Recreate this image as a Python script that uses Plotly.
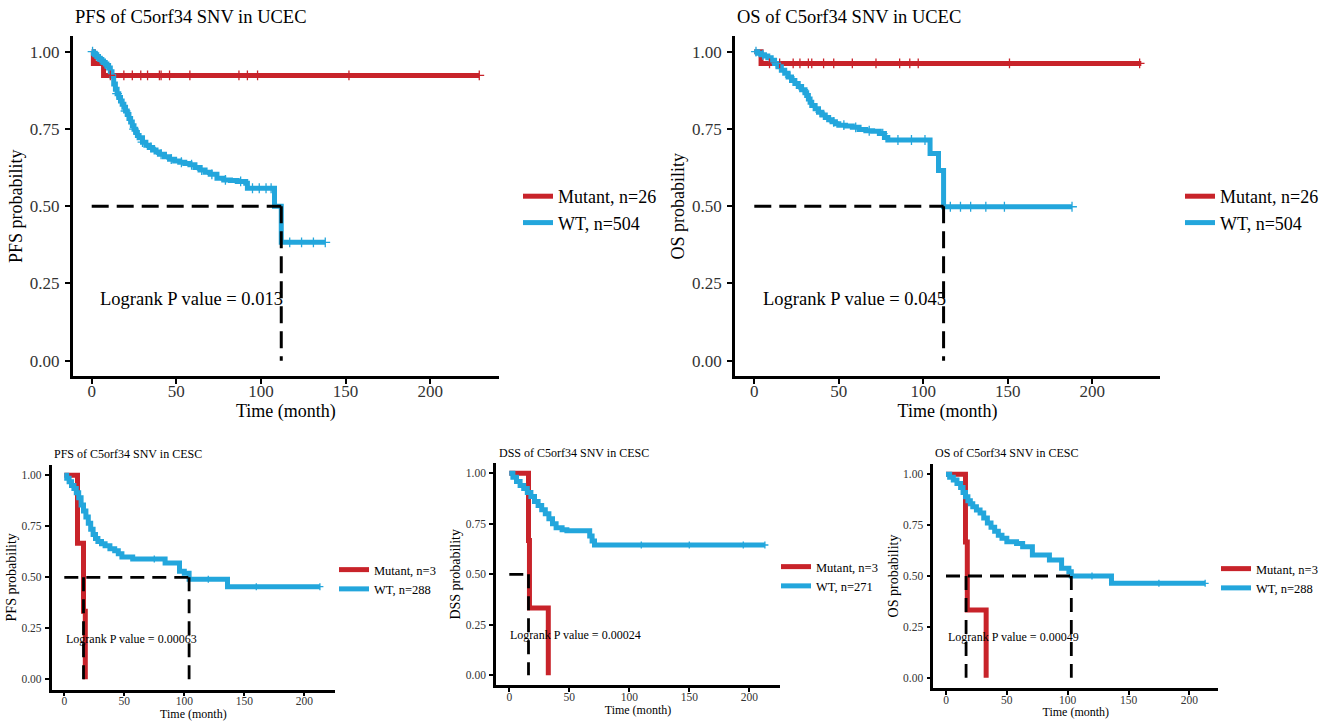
import plotly.graph_objects as go

W, H = 1336, 723
RED = "#C8232A"
BLUE = "#23A6DC"
FONT = "Liberation Serif"

# ---------------- data ----------------
y_ticks = [0, 0.25, 0.5, 0.75, 1.0]
y_ticktext = ["0.00", "0.25", "0.50", "0.75", "1.00"]
x_ticks = [0, 50, 100, 150, 200]

# Panel 1: PFS UCEC
p1_title = "PFS of C5orf34 SNV in UCEC"
p1_ylabel = "PFS probability"
p1_mut_label = "Mutant, n=26"
p1_wt_label = "WT, n=504"
p1_pval = "Logrank P value = 0.013"
p1_mut_t = [0, 1, 7, 229]
p1_mut_s = [1.0, 0.962, 0.923, 0.923]
p1_mut_cens = [11, 19, 24, 29, 33, 40, 41, 46, 58, 87, 92, 98, 152, 229]
p1_wt_t = [0, 1, 2, 3, 4, 5, 6, 7, 8, 9, 10, 11, 12, 13, 14, 15, 16, 17, 18, 19, 20,
           21, 22, 23, 24, 25, 26, 27, 28, 30, 32, 34, 36, 38, 40, 43, 46, 49, 52, 55,
           58, 61, 64, 67, 70, 74, 78, 82, 86, 91, 92, 108, 112, 138]
p1_wt_s = [1.0, 0.995, 0.99, 0.984, 0.979, 0.975, 0.97, 0.965, 0.96, 0.955, 0.947,
           0.935, 0.92, 0.895, 0.878, 0.864, 0.852, 0.84, 0.83, 0.82, 0.808, 0.797,
           0.784, 0.772, 0.76, 0.749, 0.738, 0.729, 0.721, 0.707, 0.697, 0.69, 0.682,
           0.675, 0.668, 0.66, 0.652, 0.646, 0.642, 0.638, 0.634, 0.625, 0.617, 0.61,
           0.603, 0.59, 0.585, 0.583, 0.58, 0.574, 0.558, 0.5, 0.383, 0.383]
p1_wt_cens = [0.5, 3.5, 8, 15, 20, 25, 30, 35, 41, 47, 53, 59, 65, 71, 79, 88, 95,
              99, 103, 106, 117, 124, 131, 138]
p1_medians = [112]

# Panel 2: OS UCEC
p2_title = "OS of C5orf34 SNV in UCEC"
p2_ylabel = "OS probability"
p2_mut_label = "Mutant, n=26"
p2_wt_label = "WT, n=504"
p2_pval = "Logrank P value = 0.045"
p2_mut_t = [0, 4, 229]
p2_mut_s = [1.0, 0.962, 0.962]
p2_mut_cens = [9, 15, 23, 27, 32, 34, 41, 47, 58, 72, 86, 92, 97, 151, 228]
p2_wt_t = [0, 2, 4, 6, 8, 10, 12, 14, 16, 18, 20, 22, 24, 26, 28, 30, 31, 32, 33, 34,
           36, 38, 40, 42, 44, 46, 48, 50, 54, 58, 62, 66, 70, 74, 77, 79, 104, 109,
           112, 188]
p2_wt_s = [1.0, 0.995, 0.99, 0.986, 0.98, 0.972, 0.962, 0.951, 0.94, 0.93, 0.918,
           0.907, 0.897, 0.887, 0.877, 0.867, 0.858, 0.847, 0.836, 0.826, 0.815, 0.804,
           0.795, 0.787, 0.78, 0.773, 0.767, 0.762, 0.759, 0.755, 0.748, 0.744, 0.742,
           0.735, 0.722, 0.714, 0.67, 0.615, 0.498, 0.498]
p2_wt_cens = [1, 5, 13, 21, 29, 39, 47, 53, 60, 68, 76, 85, 93, 101, 116, 122, 128,
              137, 148, 188]
p2_medians = [112]

# Panel 3: PFS CESC
p3_title = "PFS of C5orf34 SNV in CESC"
p3_ylabel = "PFS probability"
p3_mut_label = "Mutant, n=3"
p3_wt_label = "WT, n=288"
p3_pval = "Logrank P value = 0.00063"
p3_mut_t = [0, 11, 16, 17.5]
p3_mut_s = [1.0, 0.667, 0.333, 0.0]
p3_mut_cens = []
p3_wt_t = [0, 2, 4, 6, 8, 10, 12, 14, 16, 18, 20, 22, 24, 26, 28, 31, 34, 38, 42, 45,
           48, 57, 84, 96, 100, 104, 136, 213]
p3_wt_s = [1.0, 0.985, 0.968, 0.95, 0.935, 0.915, 0.89, 0.855, 0.825, 0.795, 0.765,
           0.735, 0.71, 0.69, 0.675, 0.665, 0.655, 0.64, 0.63, 0.615, 0.6, 0.59, 0.57,
           0.53, 0.52, 0.49, 0.454, 0.454]
p3_wt_cens = [75, 120, 160, 213]
p3_medians = [16, 104]

# Panel 4: DSS CESC
p4_title = "DSS of C5orf34 SNV in CESC"
p4_ylabel = "DSS probability"
p4_mut_label = "Mutant, n=3"
p4_wt_label = "WT, n=271"
p4_pval = "Logrank P value = 0.00024"
p4_mut_t = [0, 16, 16.8, 32.5]
p4_mut_s = [1.0, 0.667, 0.333, 0.0]
p4_mut_cens = []
p4_wt_t = [0, 3, 6, 9, 12, 15, 18, 21, 24, 27, 30, 33, 36, 39, 44, 48, 67, 69, 71, 213]
p4_wt_s = [1.0, 0.98, 0.96, 0.94, 0.925, 0.905, 0.885, 0.86, 0.84, 0.82, 0.8, 0.775,
           0.75, 0.73, 0.72, 0.715, 0.69, 0.665, 0.645, 0.645]
p4_wt_cens = [110, 150, 195, 213]
p4_medians = [16]

# Panel 5: OS CESC
p5_title = "OS of C5orf34 SNV in CESC"
p5_ylabel = "OS probability"
p5_mut_label = "Mutant, n=3"
p5_wt_label = "WT, n=288"
p5_pval = "Logrank P value = 0.00049"
p5_mut_t = [0, 16, 17.5, 33]
p5_mut_s = [1.0, 0.667, 0.333, 0.0]
p5_mut_cens = []
p5_wt_t = [0, 3, 6, 9, 12, 14, 16, 18, 20, 22, 25, 28, 31, 34, 37, 40, 43, 46, 50, 58,
           63, 71, 85, 95, 101, 103, 136, 213]
p5_wt_s = [1.0, 0.985, 0.972, 0.955, 0.935, 0.91, 0.89, 0.87, 0.855, 0.84, 0.825,
           0.81, 0.785, 0.76, 0.74, 0.72, 0.7, 0.685, 0.668, 0.66, 0.644, 0.603, 0.579,
           0.538, 0.521, 0.5, 0.464, 0.464]
p5_wt_cens = [120, 175, 213]
p5_medians = [16.5, 103]

# ---------------- layout (pixel geometry) ----------------
geo = [
    dict(l=72.7, r=499, t=36.2, b=376.1, x0=91.7, ppm=1.6925, big=True,
         title_x=73, title_y=17, leg_x=518, leg_y=178, pv_x=59),
    dict(l=735, r=1160, t=36.2, b=376.1, x0=754.3, ppm=1.69, big=True,
         title_x=735, title_y=17, leg_x=1180, leg_y=178, pv_x=59),
    dict(l=51.7, r=335, t=465.1, b=689.5, x0=64.3, ppm=1.2, big=False,
         title_x=52, title_y=454, leg_x=334, leg_y=555, pv_x=56),
    dict(l=496, r=780, t=463.2, b=685.4, x0=509.3, ppm=1.2, big=False,
         title_x=497, title_y=453, leg_x=776, leg_y=552, pv_x=55.5),
    dict(l=933.3, r=1218.3, t=464.1, b=687.9, x0=946, ppm=1.2167, big=False,
         title_x=933, title_y=453, leg_x=1216, leg_y=554, pv_x=55.5),
]

panels = [
    (p1_title, p1_ylabel, p1_mut_label, p1_wt_label, p1_pval, p1_mut_t, p1_mut_s,
     p1_mut_cens, p1_wt_t, p1_wt_s, p1_wt_cens, p1_medians),
    (p2_title, p2_ylabel, p2_mut_label, p2_wt_label, p2_pval, p2_mut_t, p2_mut_s,
     p2_mut_cens, p2_wt_t, p2_wt_s, p2_wt_cens, p2_medians),
    (p3_title, p3_ylabel, p3_mut_label, p3_wt_label, p3_pval, p3_mut_t, p3_mut_s,
     p3_mut_cens, p3_wt_t, p3_wt_s, p3_wt_cens, p3_medians),
    (p4_title, p4_ylabel, p4_mut_label, p4_wt_label, p4_pval, p4_mut_t, p4_mut_s,
     p4_mut_cens, p4_wt_t, p4_wt_s, p4_wt_cens, p4_medians),
    (p5_title, p5_ylabel, p5_mut_label, p5_wt_label, p5_pval, p5_mut_t, p5_mut_s,
     p5_mut_cens, p5_wt_t, p5_wt_s, p5_wt_cens, p5_medians),
]


def km_at(ts, ss, t):
    s = ss[0]
    for ti, si in zip(ts, ss):
        if ti <= t:
            s = si
    return s


fig = go.Figure()
layout = dict(
    width=W, height=H, autosize=False,
    margin=dict(l=0, r=0, t=0, b=0),
    paper_bgcolor="white", plot_bgcolor="white",
    font=dict(family=FONT, color="black"),
    showlegend=True,
)
annotations = []

for i, (g, p) in enumerate(zip(geo, panels), start=1):
    (title, ylabel, mut_label, wt_label, pval, mut_t, mut_s, mut_cens,
     wt_t, wt_s, wt_cens, medians) = p
    big = g["big"]
    xa = "x" if i == 1 else f"x{i}"
    ya = "y" if i == 1 else f"y{i}"
    lg = "legend" if i == 1 else f"legend{i}"
    lw = 5.0
    tick_fs = 17 if big else 11.5
    lab_fs = 18 if big else 12
    ylab_fs = 18 if big else 14
    csize = 7 if big else 5

    fig.add_trace(go.Scatter(x=mut_t, y=mut_s, mode="lines", line=dict(color=RED, width=lw, shape="hv"),
                             name=mut_label, legend=lg, xaxis=xa, yaxis=ya))
    fig.add_trace(go.Scatter(x=wt_t, y=wt_s, mode="lines", line=dict(color=BLUE, width=lw, shape="hv"),
                             name=wt_label, legend=lg, xaxis=xa, yaxis=ya))
    if mut_cens:
        fig.add_trace(go.Scatter(x=mut_cens, y=[km_at(mut_t, mut_s, t) for t in mut_cens], mode="markers",
                                 marker=dict(symbol="cross-thin", size=csize, line=dict(color=RED, width=1.3)),
                                 showlegend=False, hoverinfo="skip", xaxis=xa, yaxis=ya))
    fig.add_trace(go.Scatter(x=wt_cens, y=[km_at(wt_t, wt_s, t) for t in wt_cens], mode="markers",
                             marker=dict(symbol="cross-thin", size=csize, line=dict(color=BLUE, width=1.3)),
                             showlegend=False, hoverinfo="skip", xaxis=xa, yaxis=ya))
    mx, my = [0, max(medians)], [0.5, 0.5]
    for m in medians:
        mx += [None, m, m]
        my += [None, 0.5, 0]
    fig.add_trace(go.Scatter(x=mx, y=my, mode="lines",
                             line=dict(color="black", width=3 if big else 2.8,
                                       dash="17px,8px" if big else "14px,8px"),
                             showlegend=False, hoverinfo="skip", xaxis=xa, yaxis=ya))

    xr = [(g["l"] - g["x0"]) / g["ppm"], (g["r"] - g["x0"]) / g["ppm"]]
    axis_common = dict(showline=True, linecolor="black", linewidth=2.6,
                       ticks="outside", ticklen=5 if big else 4, tickwidth=2 if big else 1.5,
                       tickcolor="black", showgrid=False, zeroline=False,
                       tickfont=dict(family=FONT, size=tick_fs, color="#333333"))
    layout["xaxis" if i == 1 else f"xaxis{i}"] = dict(
        domain=[g["l"] / W, g["r"] / W], anchor=ya, range=xr,
        tickvals=x_ticks, ticklabelstandoff=-7 if big else -5,
        title=dict(text="Time (month)", font=dict(family=FONT, size=lab_fs, color="black"),
                   standoff=0 if big else 3),
        **axis_common)
    layout["yaxis" if i == 1 else f"yaxis{i}"] = dict(
        domain=[1 - g["b"] / H, 1 - g["t"] / H], anchor=xa, range=[-0.05, 1.05],
        tickvals=y_ticks, ticktext=y_ticktext, ticklabelstandoff=2 if big else 1,
        title=dict(text=ylabel, font=dict(family=FONT, size=ylab_fs, color="black"),
                   standoff=3 if big else 2),
        **axis_common)
    layout[lg] = dict(x=g["leg_x"] / W, y=1 - g["leg_y"] / H, xanchor="left", yanchor="top",
                      bgcolor="rgba(0,0,0,0)", borderwidth=0, itemwidth=30,
                      font=dict(family=FONT, size=18 if big else 12.5, color="black"))
    annotations.append(dict(text=title, xref="paper", yref="paper", x=g["title_x"] / W,
                            y=1 - g["title_y"] / H, xanchor="left", yanchor="middle", showarrow=False,
                            font=dict(family=FONT, size=18.5 if big else 12, color="black")))
    annotations.append(dict(text=pval, xref=xa, yref=ya, x=g["pv_x"], y=0.2, xanchor="center",
                            yanchor="middle", showarrow=False,
                            font=dict(family=FONT, size=18.5 if big else 12, color="black")))

layout["annotations"] = annotations
fig.update_layout(**layout)
fig.write_html("out.html", config={"displayModeBar": False},
               post_script="document.body.style.margin='0px';")
